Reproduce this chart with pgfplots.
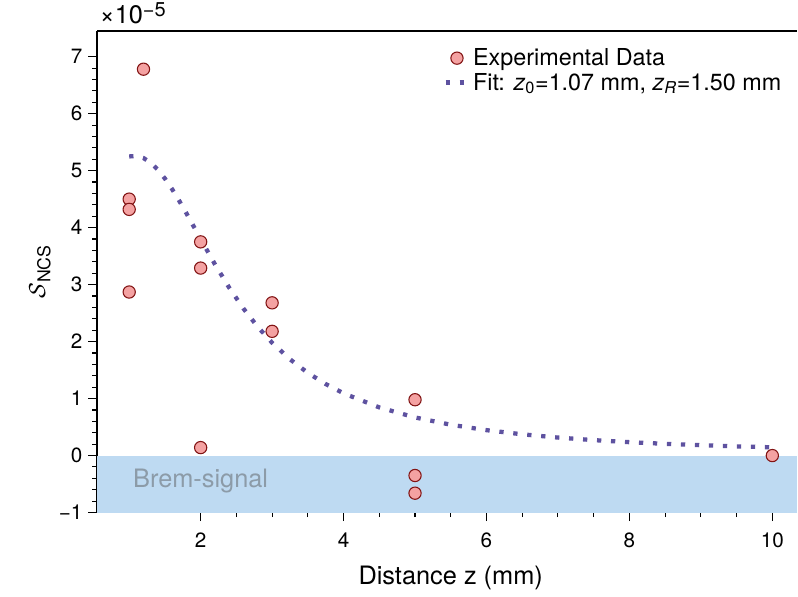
\documentclass[border=0pt]{standalone}
\usepackage{pgfplots}
\pgfplotsset{compat=1.18}
\usepackage{fontspec}
\setmainfont{TeX Gyre Heros}
\definecolor{markfill}{RGB}{244,162,162}
\definecolor{markedge}{RGB}{130,20,20}
\definecolor{fitcol}{RGB}{94,82,160}
\definecolor{bremcol}{RGB}{190,218,242}
\definecolor{bremtext}{RGB}{140,155,168}

\begin{document}
\begin{tikzpicture}
\begin{axis}[
  name=ax,
  scale only axis, width=525pt, height=361pt,
  xmin=0.55, xmax=10.35, ymin=-1, ymax=7.45,
  axis x line=box, axis y line=left, axis line style={-, line width=0.9pt},
  every tick/.style={black, line width=0.8pt},
  tick align=outside, xtick pos=left, ytick pos=left,
  major tick length=6.5pt, minor tick length=3.5pt,
  xtick={2,4,6,8,10}, minor x tick num=3,
  ytick={-1,0,1,2,3,4,5,6,7}, minor y tick num=4,
  yticklabels={−1,0,1,2,3,4,5,6,7},
  /pgf/number format/assume math mode=true,
  tick label style={font=\fontsize{15.5}{18}\selectfont},
  xticklabel style={yshift=-5pt},
  yticklabel style={xshift=-1pt},
  xlabel={Distance z (mm)}, ylabel={$\mathcal{S}$\textsubscript{NCS}},
  label style={font=\fontsize{19}{22}\selectfont},
  xlabel style={at={(axis description cs:0.505,-0.135)}, anchor=center},
  ylabel style={at={(axis description cs:-0.0814,0.5)}, anchor=center},
  legend style={draw=none, fill=none, at={(rel axis cs:0.987,0.975)}, anchor=north east,
    font=\fontsize{17.5}{20}\selectfont, row sep=0pt},
  legend cell align=left,
]
\addplot[draw=none, fill=bremcol, forget plot] coordinates {(0.55,-1) (10.35,-1) (10.35,0) (0.55,0)} -- cycle;
\node[text=bremtext, font=\fontsize{19}{22}\selectfont] at (axis cs:2.0,-0.44) {Brem-signal};

\addplot[only marks, mark=*, mark size=4.6pt, mark options={fill=markfill, draw=markedge, line width=0.8pt}]
  coordinates {(1,4.50) (1,4.32) (1,2.87) (1.2,6.78) (2,3.75) (2,3.29) (2,0.14)
    (3,2.68) (3,2.18) (5,0.98) (5,-0.35) (5,-0.66) (10,0.0)};
\addlegendentry{Experimental Data}

\addplot[fitcol, line width=3.2pt, dash pattern=on 3.2pt off 7.3pt]
  coordinates {(1.0,5.249) (1.1,5.258) (1.2,5.221) (1.3,5.139) (1.4,5.017) (1.5,4.861)
    (1.6,4.676) (1.7,4.471) (1.8,4.253) (1.9,4.027) (2.0,3.800) (2.2,3.356) (2.4,2.945)
    (2.6,2.578) (2.8,2.257) (3.0,1.980) (3.25,1.690) (3.5,1.451) (3.75,1.255) (4.0,1.092)
    (4.5,0.845) (5.0,0.669) (5.5,0.541) (6.0,0.446) (6.5,0.373) (7.0,0.316) (7.5,0.271)
    (8.0,0.235) (8.5,0.206) (9.0,0.182) (9.5,0.161) (10.0,0.145)};
\addlegendentry{Fit: \textit{z}\textsubscript{0}=1.07 mm, \textit{z}\textsubscript{\textit{R}}=1.50 mm}
\end{axis}
\node[anchor=base west, inner sep=0pt, font=\fontsize{19}{22}\selectfont]
  at ([xshift=2pt, yshift=6pt]ax.north west) {×10\raisebox{5pt}{\fontsize{15}{17}\selectfont −5}};
\pgfresetboundingbox
\path[use as bounding box] ([xshift=-72.75pt, yshift=-63pt]ax.south west) rectangle ([xshift=0.5pt, yshift=23.25pt]ax.north east);
\end{tikzpicture}
\end{document}
